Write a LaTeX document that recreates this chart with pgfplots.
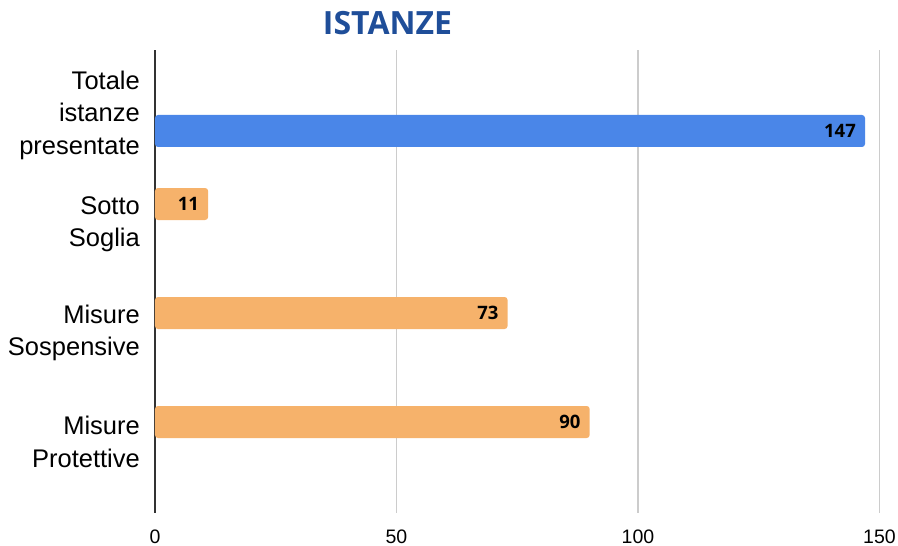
\documentclass[border=0pt]{standalone}
\usepackage{fontspec}
\setmainfont{Liberation Sans}
\newfontfamily\os{Open Sans}
\usepackage{pgfplots}
\pgfplotsset{compat=1.18}
\definecolor{barblue}{HTML}{4A86E8}
\definecolor{barorange}{HTML}{F6B26B}
\definecolor{titleblue}{RGB}{31,78,153}
\definecolor{gridgray}{HTML}{CCCCCC}
\definecolor{axisgray}{HTML}{333333}
\begin{document}
\begin{tikzpicture}
\useasboundingbox (-155pt,-33pt) rectangle (743pt,513pt);
\begin{axis}[
 at={(0pt,0pt)}, anchor=south west, scale only axis,
 width=724.5pt, height=462.5pt,
 xmin=0, xmax=150, ymin=-0.6697, ymax=3.5734,
 axis line style={draw=none},
 xtick={50,100,150},
 extra x ticks={0},
 extra x tick style={xmajorgrids=true, grid style={draw=axisgray, line width=1.4pt}},
 major tick length=0pt,
 xmajorgrids, grid style={draw=gridgray, line width=1.2pt},
 ytick={0,1,2,3},
 yticklabels={{Misure\\Protettive},{Misure\\Sospensive},{Sotto\\Soglia},{Totale\\istanze\\presentate}},
 yticklabel style={align=right, anchor=east, inner sep=0pt, xshift=-15pt, yshift=-2pt, font=\fontsize{25.5}{32.5}\selectfont},
 xticklabel style={anchor=north, inner sep=0pt, yshift=-16.5pt, font=\fontsize{19.5}{22}\selectfont},
 /pgf/number format/assume math mode=true,
 clip=false,
]
\addplot[xbar, bar width=32pt, bar shift=0pt, fill=barblue, draw=none, rounded corners=3pt,
  nodes near coords, point meta=x,
  nodes near coords style={anchor=east, inner sep=0pt, xshift=-9pt, font=\os\bfseries\fontsize{18.5}{20}\selectfont, text=black}]
  coordinates {(147,2.8349)};
\addplot[xbar, bar width=32pt, bar shift=0pt, fill=barorange, draw=none, rounded corners=3pt,
  nodes near coords, point meta=x,
  nodes near coords style={anchor=east, inner sep=0pt, xshift=-9pt, font=\os\bfseries\fontsize{18.5}{20}\selectfont, text=black}]
  coordinates {(11,2.1651) (73,1.1651) (90,0.1651)};
\end{axis}
\node[font=\os\bfseries\fontsize{32}{36}\selectfont, text=titleblue, inner sep=0pt] at (232.5pt,489.5pt) {ISTANZE};
\end{tikzpicture}
\end{document}
